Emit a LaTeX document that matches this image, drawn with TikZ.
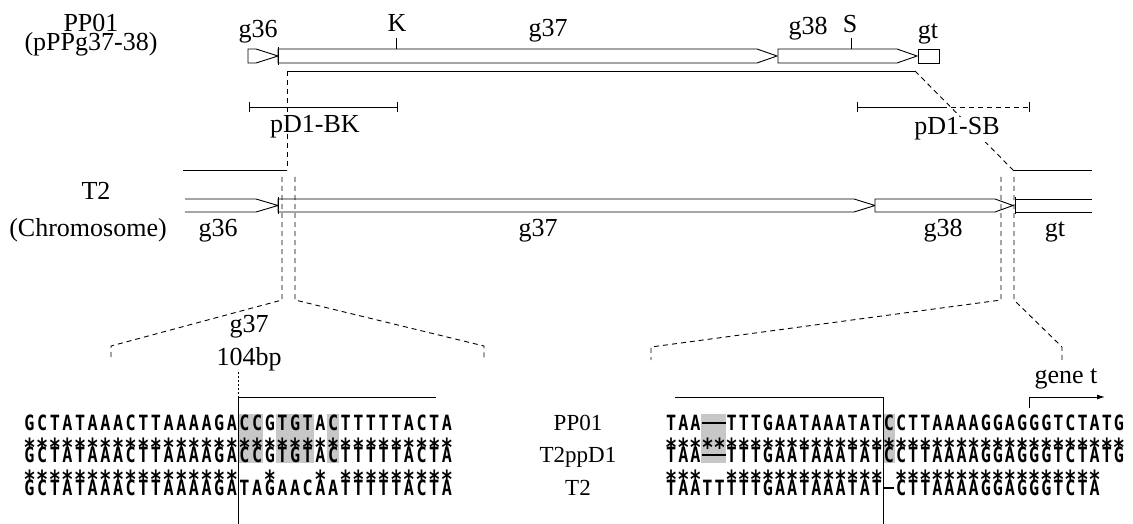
\documentclass[tikz,border=0pt]{standalone}
\usepackage{fontspec}
\setmainfont{Liberation Serif}
\newfontfamily\seqfont{DejaVu Sans Mono}[FakeStretch=0.8]
\usetikzlibrary{arrows.meta}
\newlength\cw
\def\seqbox#1{\makebox[\cw][c]{\ifx#1.\relax\else\ifx#1=\rule[0.3em]{\cw}{0.09em}\else\ifx#1-\rule[0.3em]{0.8\cw}{0.09em}\else#1\fi\fi\fi}}
\def\seqloop#1{\ifx#1\relax\else\seqbox{#1}\expandafter\seqloop\fi}
\newcommand\seqL[1]{\setlength\cw{12.65pt}\seqloop#1\relax}
\newcommand\seqR[1]{\setlength\cw{12.1pt}\seqloop#1\relax}
\begin{document}
\begin{tikzpicture}[x=1pt,y=-1pt,
  lab/.style={font=\fontsize{26}{28}\selectfont, inner sep=0pt, anchor=base},
  slab/.style={font=\fontsize{23}{25}\selectfont, inner sep=0pt, anchor=base},
  ln/.style={line width=0.9pt, draw=black},
  dsh/.style={ln, dash pattern=on 5pt off 4pt},
  dot/.style={ln, dash pattern=on 2pt off 2pt},
  gene/.style={ln, fill=white},
  seqrow/.style={font=\seqfont\bfseries\fontsize{21}{23}\selectfont, inner sep=0pt, anchor=base west},
  astrow/.style={font=\seqfont\bfseries\fontsize{25}{25}\selectfont, inner sep=0pt, anchor=base west},
  hl/.style={fill=black!22}]
\useasboundingbox (0,0) rectangle (1133,524);

% ---------- PP01 row ----------
\node[lab] (pp) at (91,32) {PP01};
\node[lab] (ppp) at (91,51) {(pPPg37-38)};
\draw[gene] (248,49) -- (256,49) -- (278,56) -- (256,63) -- (248,63) -- cycle;
\draw[gene] (278,49) -- (757,49) -- (777,56) -- (757,63) -- (278,63) -- cycle;
\draw[ln] (278,47) -- (278,65);
\draw[gene] (778,49) -- (897,49) -- (917,56) -- (897,63) -- (778,63) -- cycle;
\draw[gene] (918,49) rectangle (939,63);
\coordinate (kt) at (396,38); \coordinate (kb) at (396,49);
\coordinate (st) at (851,38); \coordinate (sb) at (851,49);
\draw[ln] (kt) -- (kb);
\draw[ln] (st) -- (sb);
\node[lab] (K) at (397,32) {K};
\node[lab] (S) at (850,33) {S};
\node[lab] (g36a) at (258,38) {g36};
\node[lab] (g37a) at (548,37) {g37};
\node[lab] (g38a) at (808,35) {g38};
\node[lab] (gta) at (928,39) {gt};

\coordinate (pl0) at (287,71); \coordinate (pl1) at (915,71);
\coordinate (t2l) at (287,170); \coordinate (t2r) at (1013,170);
\draw[ln] (pl0) -- (pl1);
\draw[dsh] (pl0) -- (t2l);
\draw[dsh] (pl1) -- (t2r);

% plasmid fragments
\draw[ln] (249,107) -- (397,107);
\draw[ln] (249,102) -- (249,112);
\draw[ln] (397,102) -- (397,112);
\node[lab] (bk) at (315,133) {pD1-BK};
\draw[ln] (857,107) -- (942,107);
\draw[dsh] (942,107) -- (1029,107);
\draw[ln] (857,102) -- (857,112);
\draw[ln] (1029,102) -- (1029,112);
\node[lab, fill=white, inner sep=1pt] (sbl) at (957,135) {pD1-SB};

% ---------- T2 chromosome row ----------
\node[lab] (t2) at (96,200) {T2};
\node[lab] (chr) at (88,236) {(Chromosome)};
\draw[ln] (183,170) -- (t2l);
\draw[ln] (t2r) -- (1092,170);
\draw[ln] (185,199) -- (256,199) -- (278,205.5) -- (256,212) -- (185,212);
\draw[gene] (278,199) -- (854,199) -- (875,205.5) -- (854,212) -- (278,212) -- cycle;
\draw[ln] (278,197) -- (278,214);
\draw[gene] (875,199) -- (995,199) -- (1013,205.5) -- (995,212) -- (875,212) -- cycle;
\draw[ln] (1015,199) -- (1092,199);
\draw[ln] (1015,212) -- (1092,212);
\draw[ln] (1015,197) -- (1015,214);
\node[lab] (g36b) at (218,236) {g36};
\node[lab] (g37b) at (538,236) {g37};
\node[lab] (g38b) at (943,236) {g38};
\node[lab] (gtb) at (1055,236) {gt};

% ---------- zoom fans ----------
\draw[dsh] (282,177) -- (282,300) -- (111,346) -- (111,359);
\draw[dsh] (295,177) -- (295,300) -- (484,346) -- (484,359);
\draw[dsh] (1001,177) -- (1001,300) -- (651,347) -- (651,360);
\draw[dsh] (1014,177) -- (1014,300) -- (1062,347) -- (1062,360);
\node[lab] (g37c) at (249,332) {g37};
\node[lab] (bp) at (249,365) {104bp};

% ---------- alignments ----------
\fill[hl] (238.05,414) rectangle (263.35,463);
\fill[hl] (276,414) rectangle (313.95,463);
\fill[hl] (326.6,414) rectangle (339.25,463);
\fill[hl] (701.3,414) rectangle (725.5,463);
\fill[hl] (882.8,414) rectangle (894.9,463);

\coordinate (lb0) at (238,397); \coordinate (lb1) at (436,397);
\coordinate (rb0) at (675,397); \coordinate (rb1) at (883,397);
\draw[dot] (238,372) -- (lb0);
\draw[ln] (238,524) -- (lb0) -- (lb1);
\draw[ln] (rb0) -- (rb1) -- (883,524);

\node[seqrow] (l1) at (23,430) {\seqL{GCTATAAACTTAAAAGACCGTGTACTTTTTACTA}};
\node[astrow] (la1) at (23,456) {\seqL{**********************************}};
\node[seqrow] (l2) at (23,462) {\seqL{GCTATAAACTTAAAAGACCGTGTACTTTTTACTA}};
\node[astrow] (la2) at (23,488) {\seqL{*****************..*...*.*********}};
\node[seqrow] (l3) at (23,495) {\seqL{GCTATAAACTTAAAAGATAGAACAATTTTTACTA}};

\node[slab] (n1) at (578,430) {PP01};
\node[slab] (n2) at (578,462) {T2ppD1};
\node[slab] (n3) at (578,495) {T2};

\node[seqrow] (r1) at (665,430) {\seqR{TAA==TTTGAATAAATATCCTTAAAAGGAGGGTCTATG}};
\node[astrow] (ra1) at (665,456) {\seqR{**************************************}};
\node[seqrow] (r2) at (665,462) {\seqR{TAA==TTTGAATAAATATCCTTAAAAGGAGGGTCTATG}};
\node[astrow] (ra2) at (665,488) {\seqR{***..*************.*****************}};
\node[seqrow] (r3) at (665,495) {\seqR{TAATTTTTGAATAAATAT-CTTAAAAGGAGGGTCTA}};

\node[lab] (genet) at (1066,383) {gene t};
\coordinate (ga) at (1029,408); \coordinate (gc) at (1029,397); \coordinate (ge) at (1105,397);
\draw[ln, -{Latex[length=8pt,width=5pt]}] (ga) -- (gc) -- (ge);
\end{tikzpicture}
\end{document}
